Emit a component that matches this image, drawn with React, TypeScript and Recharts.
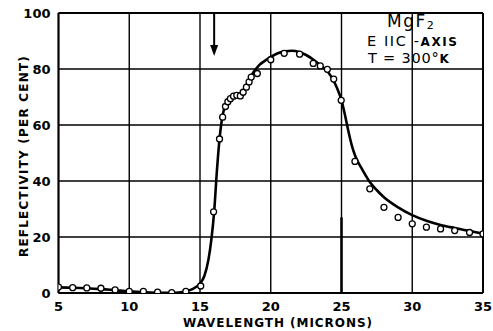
import {
  ComposedChart,
  Line,
  Scatter,
  XAxis,
  YAxis,
  CartesianGrid,
  ReferenceLine,
  ReferenceDot,
} from 'recharts';

// smooth theoretical curve (wavelength in microns, reflectivity %)
const CURVE_X = [
  5, 6, 7, 8, 9, 10, 11, 12, 13, 13.5, 14, 14.5, 15, 15.3, 15.6, 15.8, 16, 16.2, 16.4, 16.6, 16.8, 17,
  17.3, 17.6, 18, 18.4, 18.8, 19.2, 19.6, 20, 20.5, 21, 21.5, 22, 22.5, 23, 23.5, 24, 24.4, 24.7, 25,
  25.25, 25.5, 25.75, 26, 26.5, 27, 27.5, 28, 29, 30, 31, 32, 33, 34, 35,
];
const CURVE_Y = [
  2.0, 1.9, 1.7, 1.4, 1.0, 0.6, 0.3, 0.1, 0.1, 0.2, 0.6, 1.5, 3.4, 6, 12, 19, 29, 44, 56, 63.5, 67, 68.8,
  70.2, 70.8, 71.8, 75.5, 79, 81.5, 83, 84.3, 85.6, 86.3, 86.5, 86.1, 85, 83.4, 81.4, 79.2, 76.2, 73, 68.8,
  63.5, 57.5, 52.3, 48.6, 43.8, 39.6, 36.7, 34.2, 30.6, 27.8, 25.8, 24.3, 23.2, 22.2, 21.2,
];

// measured points (open circles)
const MEAS_X = [
  5, 6, 7, 8, 9, 10, 11, 12, 13, 14, 15.05, 15.96, 16.38, 16.6, 16.8, 16.97, 17.15, 17.37, 17.6, 17.85,
  18.05, 18.28, 18.47, 18.62, 19.05, 20, 20.95, 22.04, 23, 23.5, 24, 24.45, 24.98, 25.95, 27, 28, 29, 30,
  31, 32, 33, 34.05, 35,
];
const MEAS_Y = [
  2.1, 1.9, 1.8, 1.7, 1.1, 0.6, 0.6, 0.3, 0.1, 0.6, 2.5, 29, 55, 62.8, 66.6, 68.3, 69.4, 70.3, 70.6, 70.4,
  71.7, 73.5, 75.4, 77.1, 78.4, 83.3, 85.6, 85.3, 82, 81.1, 79.9, 76.4, 68.8, 47, 37.2, 30.6, 27, 24.7,
  23.5, 22.9, 22.3, 21.6, 21.1,
];

const X_TICKS = [5, 10, 15, 20, 25, 30, 35];
const Y_TICKS = [0, 20, 40, 60, 80, 100];

const curve = CURVE_X.map((x, i) => ({ x, y: CURVE_Y[i] }));
const measured = MEAS_X.map((x, i) => ({ x, y: MEAS_Y[i] }));

const FONT = '"DejaVu Sans", sans-serif';
const tickStyle = { fill: '#000', fontSize: 13, fontWeight: 700, fontFamily: FONT };

const OpenCircle = (p: any) => (
  <circle cx={p.cx} cy={p.cy} r={3} fill="#fff" stroke="#000" strokeWidth={1.3} />
);

const ArrowHead = (p: any) => (
  <path
    d={`M${p.cx - 4},${p.cy - 11} L${p.cx + 4},${p.cy - 11} L${p.cx},${p.cy} Z`}
    fill="#000"
  />
);

const note = { position: 'absolute' as const, fontFamily: FONT, whiteSpace: 'nowrap' as const };

export default function App() {
  return (
    <div style={{ position: 'absolute', left: 0, top: 0, width: 493, height: 331, background: '#fff' }}>
      <ComposedChart
        width={493}
        height={331}
        margin={{ top: 13, right: 10, left: 0.5, bottom: 0 }}
      >
        <CartesianGrid stroke="#000" strokeWidth={1.4} />
        <XAxis
          dataKey="x"
          type="number"
          domain={[5, 35]}
          ticks={X_TICKS}
          height={38}
          tickLine={false}
          axisLine={{ stroke: '#000', strokeWidth: 2 }}
          tick={tickStyle}
          tickMargin={3}
          allowDataOverflow
        />
        <YAxis
          dataKey="y"
          type="number"
          domain={[0, 100]}
          ticks={Y_TICKS}
          width={58}
          tickLine={false}
          axisLine={{ stroke: '#000', strokeWidth: 2 }}
          tick={tickStyle}
          tickMargin={2}
          allowDataOverflow
        />
        <ReferenceLine y={100} stroke="#000" strokeWidth={2} />
        <ReferenceLine x={35} stroke="#000" strokeWidth={2} />
        <ReferenceLine
          segment={[{ x: 25, y: 0 }, { x: 25, y: 27 }]}
          stroke="#000"
          strokeWidth={2.5}
        />
        <ReferenceLine
          segment={[{ x: 16, y: 100 }, { x: 16, y: 88 }]}
          stroke="#000"
          strokeWidth={2}
        />
        <ReferenceDot x={16} y={84.6} shape={ArrowHead} />
        <Line
          data={curve}
          dataKey="y"
          type="monotone"
          stroke="#000"
          strokeWidth={2.6}
          dot={false}
          isAnimationActive={false}
        />
        <Scatter
          data={measured}
          dataKey="y"
          shape={OpenCircle}
          isAnimationActive={false}
        />
      </ComposedChart>

      <div style={{ ...note, left: 387, top: 12, fontSize: 17, lineHeight: '19px', letterSpacing: 1.5 }}>
        MgF<sub style={{ fontSize: 11, lineHeight: 0, verticalAlign: -2 }}>2</sub>
      </div>
      <div style={{ ...note, left: 367, top: 33, fontSize: 14.5, lineHeight: '17px', letterSpacing: 1.6 }}>
        E IIC -<span style={{ fontSize: 12, fontWeight: 700 }}>AXIS</span>
      </div>
      <div style={{ ...note, left: 368, top: 50, fontSize: 14.5, lineHeight: '17px', letterSpacing: 0.8 }}>
        T = 300°<span style={{ fontSize: 12, fontWeight: 700 }}>K</span>
      </div>

      <div
        style={{
          ...note,
          left: 168,
          top: 315,
          width: 220,
          textAlign: 'center',
          fontSize: 12,
          fontWeight: 700,
          letterSpacing: 0.95,
          lineHeight: '16px',
        }}
      >
        WAVELENGTH (MICRONS)
      </div>
      <div
        style={{
          ...note,
          left: 23.5 - 120,
          top: 156 - 8,
          width: 240,
          textAlign: 'center',
          transform: 'rotate(-90deg)',
          fontSize: 12,
          fontWeight: 700,
          letterSpacing: 1.2,
          lineHeight: '16px',
        }}
      >
        REFLECTIVITY (PER CENT)
      </div>
    </div>
  );
}
